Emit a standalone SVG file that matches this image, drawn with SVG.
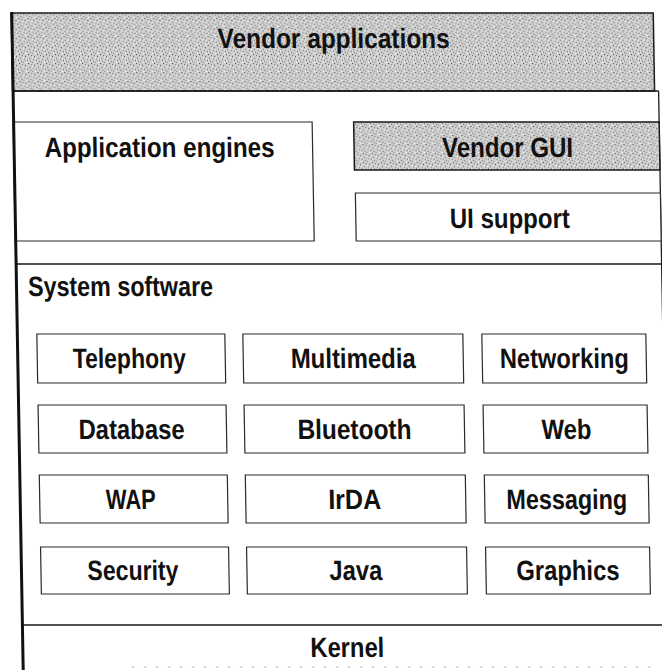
<svg xmlns="http://www.w3.org/2000/svg" width="662" height="670" viewBox="0 0 662 670">
  <defs>
    <pattern id="speckle" width="9" height="9" patternUnits="userSpaceOnUse">
      <rect width="9" height="9" fill="#cfcfcf"/>
      <rect x="0" y="0" width="1" height="1" fill="#444"/>
      <rect x="3" y="1" width="1" height="1" fill="#666"/>
      <rect x="6" y="2" width="1" height="1" fill="#333"/>
      <rect x="1" y="4" width="1" height="1" fill="#555"/>
      <rect x="5" y="5" width="1" height="1" fill="#777"/>
      <rect x="8" y="6" width="1" height="1" fill="#444"/>
      <rect x="2" y="7" width="1" height="1" fill="#666"/>
      <rect x="4" y="8" width="1" height="1" fill="#888"/>
      <rect x="7" y="8" width="1" height="1" fill="#fff"/>
      <rect x="4" y="3" width="1" height="1" fill="#fff"/>
      <rect x="0" y="6" width="1" height="1" fill="#fff"/>
      <rect x="7" y="4" width="1" height="1" fill="#eee"/>
    </pattern>
  </defs>
  <style>
    .ln { stroke: #1a1a1a; stroke-width: 1.3; fill: none; }
    .box { stroke: #2a2a2a; stroke-width: 1.2; fill: #ffffff; }
    .tex { fill: url(#speckle); stroke: #1a1a1a; stroke-width: 1.5; }
    .t { font-family: "Liberation Sans", Arial, sans-serif; font-weight: bold; font-size: 28px; fill: #111; text-anchor: middle; }
    .tl { font-family: "Liberation Sans", Arial, sans-serif; font-weight: bold; font-size: 28px; fill: #111; }
  </style>
  <rect width="662" height="670" fill="#ffffff"/>
  <g transform="skewX(1)">
    <g id="frame">
      <line class="ln" x1="657" y1="91" x2="657" y2="670"/>
      <line class="ln" x1="11" y1="264" x2="657" y2="264"/>
      <line class="ln" x1="11" y1="625" x2="657" y2="625"/>
      <line x1="120" y1="667" x2="640" y2="667" stroke="#bbbbbb" stroke-width="1" stroke-dasharray="3 9"/>
    </g>
    <g id="vendor-applications">
      <rect class="tex" x="11" y="13" width="642" height="78"/>
      <line class="ln" x1="11" y1="91" x2="657" y2="91"/>
      <text class="t" x="333" y="48" textLength="232" lengthAdjust="spacingAndGlyphs">Vendor applications</text>
    </g>
    <g id="application-engines">
      <rect class="box" x="11" y="122" width="299" height="119"/>
      <text class="t" x="157" y="157" textLength="230" lengthAdjust="spacingAndGlyphs">Application engines</text>
    </g>
    <g id="vendor-gui">
      <rect class="tex" x="351.5" y="122" width="305.5" height="48"/>
      <text class="t" x="505" y="157" textLength="131" lengthAdjust="spacingAndGlyphs">Vendor GUI</text>
    </g>
    <g id="ui-support">
      <rect class="box" x="352" y="193" width="305" height="48"/>
      <text class="t" x="506" y="228" textLength="120" lengthAdjust="spacingAndGlyphs">UI support</text>
    </g>
    <g id="system-software">
      <text class="tl" x="23" y="296" textLength="185" lengthAdjust="spacingAndGlyphs">System software</text>
    </g>
    <g id="telephony">
      <rect class="box" x="31" y="334" width="188" height="49"/>
      <text class="t" x="123" y="368" textLength="113" lengthAdjust="spacingAndGlyphs">Telephony</text>
    </g>
    <g id="multimedia">
      <rect class="box" x="237" y="334" width="220" height="49"/>
      <text class="t" x="347" y="368" textLength="125" lengthAdjust="spacingAndGlyphs">Multimedia</text>
    </g>
    <g id="networking">
      <rect class="box" x="476" y="334" width="164" height="49"/>
      <text class="t" x="558" y="368" textLength="129" lengthAdjust="spacingAndGlyphs">Networking</text>
    </g>
    <g id="database">
      <rect class="box" x="31" y="405" width="188" height="48"/>
      <text class="t" x="124" y="439" textLength="106" lengthAdjust="spacingAndGlyphs">Database</text>
    </g>
    <g id="bluetooth">
      <rect class="box" x="237" y="405" width="220" height="48"/>
      <text class="t" x="347" y="439" textLength="114" lengthAdjust="spacingAndGlyphs">Bluetooth</text>
    </g>
    <g id="web">
      <rect class="box" x="476" y="405" width="164" height="48"/>
      <text class="t" x="559" y="439" textLength="50" lengthAdjust="spacingAndGlyphs">Web</text>
    </g>
    <g id="wap">
      <rect class="box" x="31" y="475" width="188" height="48"/>
      <text class="t" x="122" y="509" textLength="50" lengthAdjust="spacingAndGlyphs">WAP</text>
    </g>
    <g id="irda">
      <rect class="box" x="237" y="475" width="220" height="48"/>
      <text class="t" x="346" y="509" textLength="53" lengthAdjust="spacingAndGlyphs">IrDA</text>
    </g>
    <g id="messaging">
      <rect class="box" x="476" y="475" width="164" height="48"/>
      <text class="t" x="558" y="509" textLength="121" lengthAdjust="spacingAndGlyphs">Messaging</text>
    </g>
    <g id="security">
      <rect class="box" x="31" y="547" width="188" height="47"/>
      <text class="t" x="123" y="580" textLength="91" lengthAdjust="spacingAndGlyphs">Security</text>
    </g>
    <g id="java">
      <rect class="box" x="237" y="547" width="220" height="47"/>
      <text class="t" x="346" y="580" textLength="53" lengthAdjust="spacingAndGlyphs">Java</text>
    </g>
    <g id="graphics">
      <rect class="box" x="476" y="547" width="164" height="47"/>
      <text class="t" x="558" y="580" textLength="103" lengthAdjust="spacingAndGlyphs">Graphics</text>
    </g>
    <g id="kernel">
      <text class="t" x="336" y="657" textLength="74" lengthAdjust="spacingAndGlyphs">Kernel</text>
    </g>
    <g id="connectors"/>
    <line x1="11.5" y1="12" x2="11.5" y2="670" stroke="#111" stroke-width="3"/>
  </g>
</svg>
